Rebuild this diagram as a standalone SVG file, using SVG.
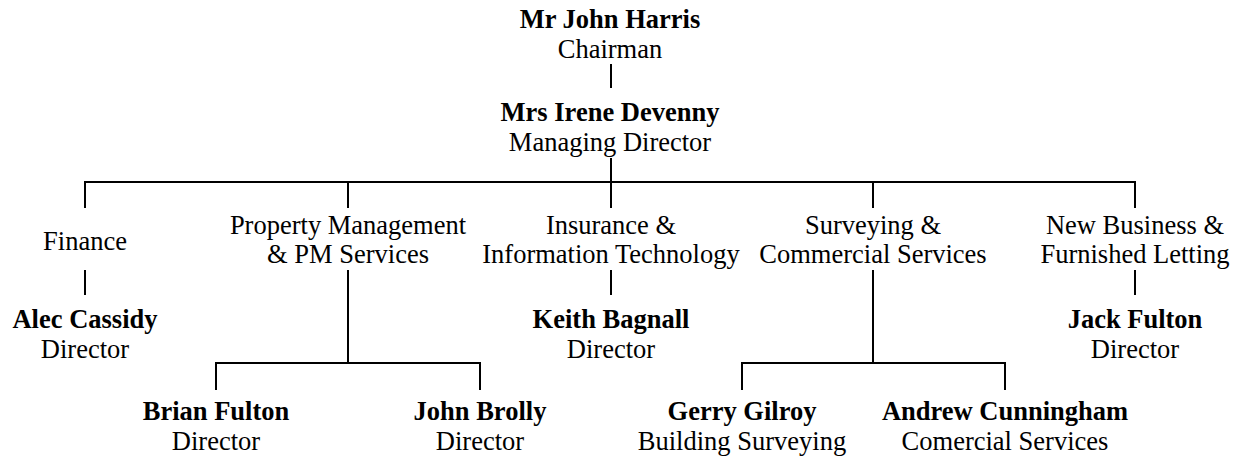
<svg xmlns="http://www.w3.org/2000/svg" width="1240" height="460" viewBox="0 0 1240 460">
<style>
text{font-family:"Liberation Serif","Times New Roman",serif;font-size:26.5px;fill:#000;text-anchor:middle}
.b{font-weight:bold}
.c line{stroke:#000;stroke-width:2;fill:none}
</style>
<rect width="1240" height="460" fill="#fff"/>
<g class="c" id="connectors">
<line x1="611" y1="64" x2="611" y2="88"/>
<line x1="611" y1="158" x2="611" y2="182"/>
<line x1="84" y1="182" x2="1136" y2="182"/>
<line x1="85" y1="182" x2="85" y2="208"/>
<line x1="348" y1="182" x2="348" y2="208"/>
<line x1="611" y1="182" x2="611" y2="208"/>
<line x1="873" y1="182" x2="873" y2="208"/>
<line x1="1135" y1="182" x2="1135" y2="208"/>
<line x1="85" y1="270" x2="85" y2="295"/>
<line x1="611" y1="270" x2="611" y2="295"/>
<line x1="1135" y1="270" x2="1135" y2="295"/>
<line x1="348" y1="270" x2="348" y2="363"/>
<line x1="215" y1="363" x2="481" y2="363"/>
<line x1="216" y1="363" x2="216" y2="390"/>
<line x1="480" y1="363" x2="480" y2="390"/>
<line x1="873" y1="270" x2="873" y2="363"/>
<line x1="741" y1="363" x2="1006" y2="363"/>
<line x1="742" y1="363" x2="742" y2="390"/>
<line x1="1005" y1="363" x2="1005" y2="390"/>
</g>
<g id="chairman"><text class="b" x="610" y="28">Mr John Harris</text><text x="610" y="58">Chairman</text></g>
<g id="md"><text class="b" x="610" y="121">Mrs Irene Devenny</text><text x="610" y="151">Managing Director</text></g>
<g id="finance"><text x="85" y="250">Finance</text></g>
<g id="property"><text x="348" y="234">Property Management</text><text x="348" y="263">&amp; PM Services</text></g>
<g id="insurance"><text x="611" y="234">Insurance &amp;</text><text x="611" y="263">Information Technology</text></g>
<g id="surveying"><text x="873" y="234">Surveying &amp;</text><text x="873" y="263">Commercial Services</text></g>
<g id="newbusiness"><text x="1135" y="234">New Business &amp;</text><text x="1135" y="263">Furnished Letting</text></g>
<g id="alec"><text class="b" x="85" y="328">Alec Cassidy</text><text x="85" y="358">Director</text></g>
<g id="keith"><text class="b" x="611" y="328">Keith Bagnall</text><text x="611" y="358">Director</text></g>
<g id="jack"><text class="b" x="1135" y="328">Jack Fulton</text><text x="1135" y="358">Director</text></g>
<g id="brian"><text class="b" x="216" y="420">Brian Fulton</text><text x="216" y="450">Director</text></g>
<g id="brolly"><text class="b" x="480" y="420">John Brolly</text><text x="480" y="450">Director</text></g>
<g id="gerry"><text class="b" x="742" y="420">Gerry Gilroy</text><text x="742" y="450">Building Surveying</text></g>
<g id="andrew"><text class="b" x="1005" y="420">Andrew Cunningham</text><text x="1005" y="450">Comercial Services</text></g>
</svg>
